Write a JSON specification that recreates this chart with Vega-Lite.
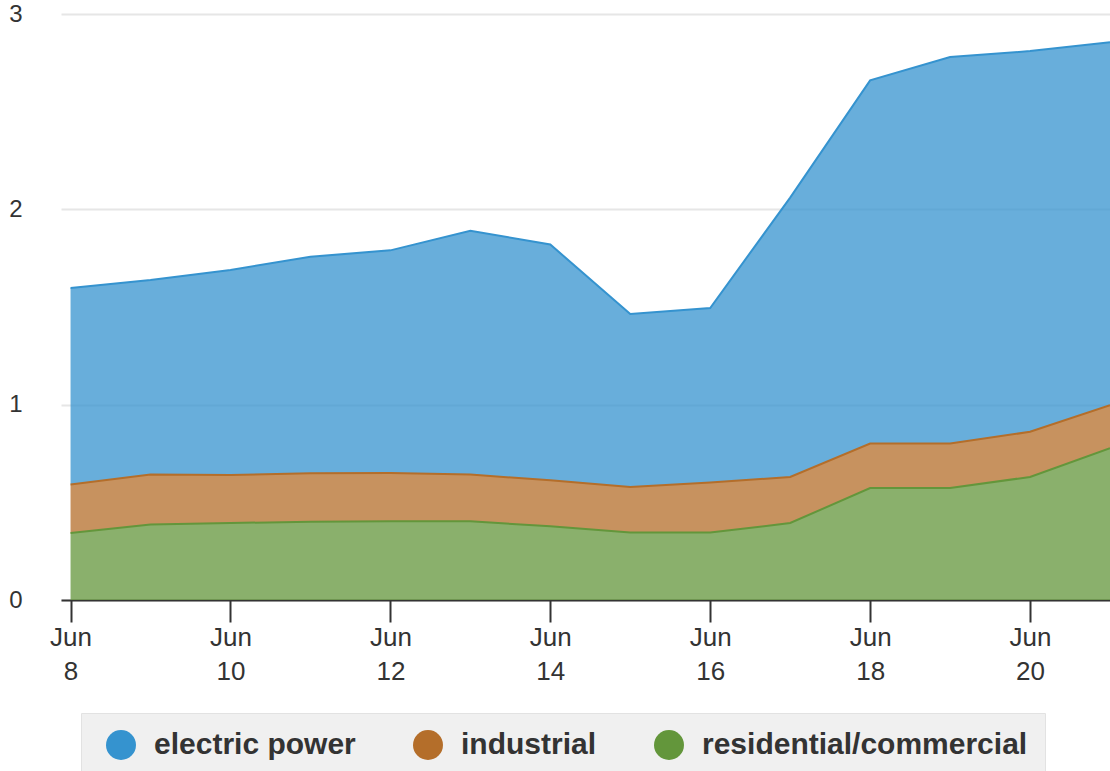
{
  "$schema": "https://vega.github.io/schema/vega-lite/v6.json",
  "width": 1049,
  "height": 586,
  "autosize": {"type": "none"},
  "padding": {"left": 61, "top": 14, "right": 0, "bottom": 171},
  "background": "white",
  "config": {"view": {"stroke": null}, "font": "Liberation Sans"},
  "data": {
    "values": [
      {"date": "2023-06-08", "sector": "electric power", "value": 1.006},
      {"date": "2023-06-09", "sector": "electric power", "value": 0.996},
      {"date": "2023-06-10", "sector": "electric power", "value": 1.05},
      {"date": "2023-06-11", "sector": "electric power", "value": 1.108},
      {"date": "2023-06-12", "sector": "electric power", "value": 1.14},
      {"date": "2023-06-13", "sector": "electric power", "value": 1.248},
      {"date": "2023-06-14", "sector": "electric power", "value": 1.207},
      {"date": "2023-06-15", "sector": "electric power", "value": 0.886},
      {"date": "2023-06-16", "sector": "electric power", "value": 0.894},
      {"date": "2023-06-17", "sector": "electric power", "value": 1.43},
      {"date": "2023-06-18", "sector": "electric power", "value": 1.859},
      {"date": "2023-06-19", "sector": "electric power", "value": 1.979},
      {"date": "2023-06-20", "sector": "electric power", "value": 1.949},
      {"date": "2023-06-21", "sector": "electric power", "value": 1.858},
      {"date": "2023-06-08", "sector": "industrial", "value": 0.248},
      {"date": "2023-06-09", "sector": "industrial", "value": 0.256},
      {"date": "2023-06-10", "sector": "industrial", "value": 0.246},
      {"date": "2023-06-11", "sector": "industrial", "value": 0.248},
      {"date": "2023-06-12", "sector": "industrial", "value": 0.247},
      {"date": "2023-06-13", "sector": "industrial", "value": 0.239},
      {"date": "2023-06-14", "sector": "industrial", "value": 0.236},
      {"date": "2023-06-15", "sector": "industrial", "value": 0.233},
      {"date": "2023-06-16", "sector": "industrial", "value": 0.256},
      {"date": "2023-06-17", "sector": "industrial", "value": 0.236},
      {"date": "2023-06-18", "sector": "industrial", "value": 0.228},
      {"date": "2023-06-19", "sector": "industrial", "value": 0.228},
      {"date": "2023-06-20", "sector": "industrial", "value": 0.231},
      {"date": "2023-06-21", "sector": "industrial", "value": 0.22},
      {"date": "2023-06-08", "sector": "residential/commercial", "value": 0.343},
      {"date": "2023-06-09", "sector": "residential/commercial", "value": 0.386},
      {"date": "2023-06-10", "sector": "residential/commercial", "value": 0.394},
      {"date": "2023-06-11", "sector": "residential/commercial", "value": 0.401},
      {"date": "2023-06-12", "sector": "residential/commercial", "value": 0.403},
      {"date": "2023-06-13", "sector": "residential/commercial", "value": 0.403},
      {"date": "2023-06-14", "sector": "residential/commercial", "value": 0.377},
      {"date": "2023-06-15", "sector": "residential/commercial", "value": 0.345},
      {"date": "2023-06-16", "sector": "residential/commercial", "value": 0.345},
      {"date": "2023-06-17", "sector": "residential/commercial", "value": 0.394},
      {"date": "2023-06-18", "sector": "residential/commercial", "value": 0.573},
      {"date": "2023-06-19", "sector": "residential/commercial", "value": 0.573},
      {"date": "2023-06-20", "sector": "residential/commercial", "value": 0.63},
      {"date": "2023-06-21", "sector": "residential/commercial", "value": 0.777}
    ]
  },
  "mark": {"type": "area", "fillOpacity": 0.75, "line": {"strokeWidth": 2}},
  "encoding": {
    "x": {
      "field": "date",
      "type": "temporal",
      "scale": {
        "type": "utc",
        "nice": false,
        "domain": [
          {"year": 2023, "month": 6, "date": 7, "hours": 21, "minutes": 8, "utc": true},
          {"year": 2023, "month": 6, "date": 21, "utc": true}
        ]
      },
      "axis": {
        "title": null,
        "grid": false,
        "values": [
          {"year": 2023, "month": 6, "date": 8, "utc": true},
          {"year": 2023, "month": 6, "date": 10, "utc": true},
          {"year": 2023, "month": 6, "date": 12, "utc": true},
          {"year": 2023, "month": 6, "date": 14, "utc": true},
          {"year": 2023, "month": 6, "date": 16, "utc": true},
          {"year": 2023, "month": 6, "date": 18, "utc": true},
          {"year": 2023, "month": 6, "date": 20, "utc": true}
        ],
        "labelExpr": "[utcFormat(datum.value, '%b'), utcFormat(datum.value, '%-d')]",
        "labelFontSize": 26,
        "labelColor": "#333333",
        "labelLineHeight": 34,
        "labelPadding": 2,
        "labelFlush": false,
        "labelOverlap": false,
        "domainColor": "#333333",
        "domainWidth": 2,
        "tickColor": "#333333",
        "tickWidth": 2,
        "tickSize": 22
      }
    },
    "y": {
      "field": "value",
      "type": "quantitative",
      "stack": "zero",
      "scale": {"domain": [0, 3], "nice": false},
      "axis": {
        "title": null,
        "values": [0, 1, 2, 3],
        "domain": false,
        "ticks": false,
        "labelFontSize": 24,
        "labelColor": "#333333",
        "labelPadding": 39,
        "gridColor": "#e6e6e6",
        "gridWidth": 2
      }
    },
    "color": {
      "field": "sector",
      "type": "nominal",
      "scale": {
        "domain": ["electric power", "industrial", "residential/commercial"],
        "range": ["#3593cf", "#b46e2a", "#63963b"]
      },
      "legend": {
        "title": null,
        "orient": "none",
        "legendX": 20,
        "legendY": 699,
        "direction": "horizontal",
        "columns": 3,
        "symbolType": "circle",
        "symbolSize": 900,
        "symbolOpacity": 1,
        "symbolStrokeWidth": 0,
        "symbolOffset": 8,
        "labelFontSize": 30,
        "labelFontWeight": "bold",
        "labelColor": "#333333",
        "labelOffset": 18,
        "labelLimit": 600,
        "columnPadding": 49,
        "padding": 17,
        "fillColor": "#f0f0f0",
        "strokeColor": "#e2e2e2"
      }
    },
    "order": {"field": "sector", "sort": "descending"}
  }
}
